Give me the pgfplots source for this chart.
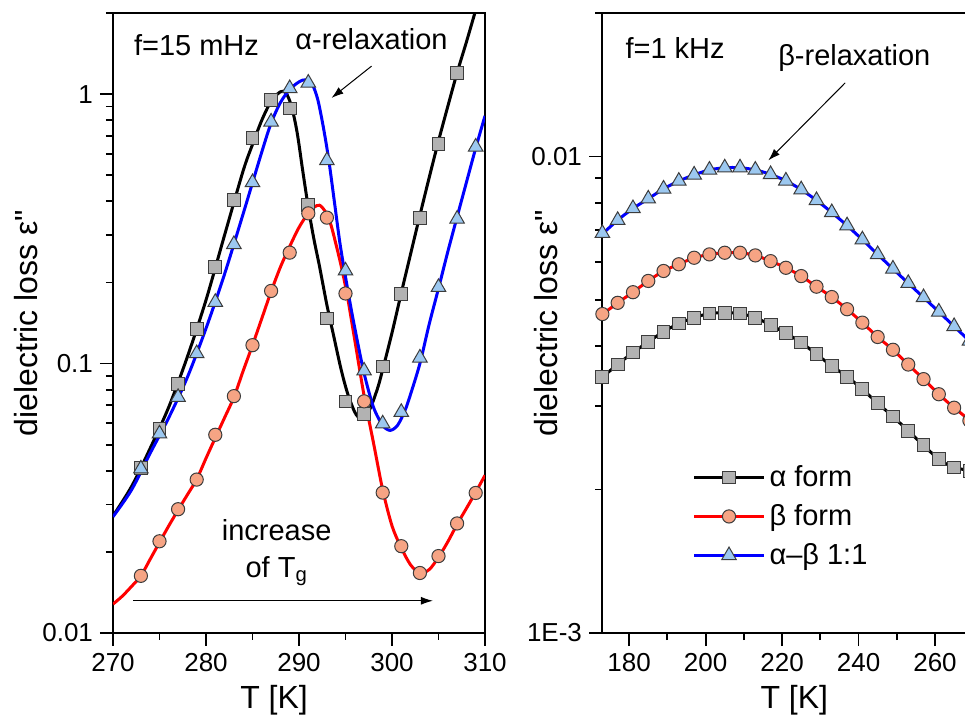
\documentclass[border=0pt]{standalone}
\usepackage{pgfplots}
\pgfplotsset{compat=1.18}
\usepackage{fontspec}
\setmainfont{Liberation Sans}
\usetikzlibrary{arrows.meta}

\definecolor{sqfill}{RGB}{178,178,178}
\definecolor{cifill}{RGB}{246,164,132}
\definecolor{trfill}{RGB}{156,200,240}
\definecolor{mkdraw}{RGB}{60,60,60}

\tikzset{
  mksq/.style={mark=square*, mark size=3.2pt,
    mark options={fill=sqfill, draw=mkdraw, line width=0.5pt}},
  mkci/.style={mark=*, mark size=3.3pt,
    mark options={fill=cifill, draw=mkdraw, line width=0.5pt}},
  mktr/.style={mark=triangle*, mark size=4.2pt,
    mark options={fill=trfill, draw=mkdraw, line width=0.5pt}},
  fitline/.style={smooth, line width=1.5pt},
  notetext/.style={font=\fontsize{14.5}{17}\selectfont},
}

\begin{document}
\begin{tikzpicture}
\useasboundingbox (-56.5pt,-47pt) rectangle (426pt,316.5pt);

% ---------- f = 15 mHz ----------
\begin{axis}[
  at={(0pt,0pt)}, anchor=south west,
  scale only axis, width=186pt, height=310pt, ymode=log,
  xmin=270, xmax=310, ymin=0.01, ymax=2,
  tick pos=left, tick align=outside,
  major tick length=6.5pt, minor tick length=3.5pt,
  major tick style={black, line width=0.9pt},
  minor tick style={black, line width=0.9pt},
  axis line style={line width=1pt},
  xtick={270,280,...,310}, minor xtick={275,285,...,305},
  xticklabels={270,280,290,300,310},
  ytick={0.01,0.1,1}, yticklabels={0.01,0.1,1},
  minor ytick={0.02,0.03,0.04,0.05,0.06,0.07,0.08,0.09,0.2,0.3,0.4,0.5,0.6,0.7,0.8,0.9,2},
  tick label style={font=\fontsize{13}{15}\selectfont},
  xlabel={T [K]}, ylabel={dielectric loss ε\textquotedbl},
  xlabel style={font=\fontsize{16}{19}\selectfont, at={(axis description cs:0.433,-0.108)}, anchor=center},
  ylabel style={font=\fontsize{16}{19}\selectfont, at={(axis description cs:-0.235,0.5)}, anchor=center},
]
% alpha form
\addplot[only marks, mksq, forget plot] coordinates {
 (273,0.041) (275,0.0573) (277,0.084) (279,0.134) (281,0.228) (283,0.404)
 (285,0.689) (287,0.948) (289,0.885) (291,0.388) (293,0.147) (295,0.0723)
 (297,0.0652) (299,0.0975) (301,0.181) (303,0.347) (305,0.655) (307,1.2)};
\addplot[no marks, fitline, black, forget plot] coordinates {
 (270,0.0272) (272,0.035) (274,0.0485) (276,0.069) (278,0.106) (280,0.172)
 (282,0.30) (284,0.52) (285,0.65) (286,0.80) (287,0.94) (288,1.02) (288.6,1.01)
 (289.2,0.90) (289.8,0.72) (290.4,0.52) (291,0.38) (291.6,0.29) (292.2,0.23)
 (293,0.165) (293.7,0.128) (294.5,0.096) (295.2,0.078) (296,0.066) (296.6,0.0625)
 (297.2,0.064) (297.8,0.070) (298.5,0.082) (299,0.095) (300,0.13) (301,0.183)
 (302,0.255) (303,0.355) (304,0.49) (305,0.67) (306,0.90) (307,1.2) (308,1.56)
 (309,2.05) (309.5,2.35)};
% beta form
\addplot[only marks, mkci, forget plot] coordinates {
 (273,0.0163) (275,0.0219) (277,0.0288) (279,0.0371) (281,0.0544) (283,0.0757)
 (285,0.117) (287,0.186) (289,0.258) (291,0.361) (293,0.348) (295,0.182)
 (297,0.0724) (299,0.0332) (301,0.0210) (303,0.0167) (305,0.0193) (307,0.0255)
 (309,0.0331)};
\addplot[no marks, fitline, red, forget plot] coordinates {
 (270,0.0128) (271,0.0137) (272,0.0149) (273,0.0163) (274,0.0188) (275,0.0217)
 (276,0.0250) (277,0.0286) (278,0.0326) (279,0.0372) (280,0.0445) (281,0.053)
 (282,0.063) (283,0.075) (284,0.094) (285,0.117) (286,0.147) (287,0.185)
 (288,0.228) (289,0.272) (290,0.32) (291,0.362) (291.6,0.38) (292.2,0.387)
 (292.8,0.368) (293.4,0.33) (294,0.275) (294.6,0.225) (295.2,0.178) (296,0.122)
 (297,0.076) (298,0.051) (299,0.034) (300,0.025) (301,0.0207) (302,0.0179)
 (303,0.0167) (304,0.0172) (305,0.0191) (306,0.0218) (307,0.0253) (308,0.029)
 (309,0.0333) (310,0.0385)};
% alpha-beta 1:1
\addplot[only marks, mktr, forget plot] coordinates {
 (273,0.0407) (275,0.0549) (277,0.075) (279,0.109) (281,0.169) (283,0.277)
 (285,0.47) (287,0.789) (289,1.05) (291,1.10) (293,0.567) (295,0.221)
 (297,0.094) (299,0.0598) (301,0.066) (303,0.105) (305,0.192) (307,0.344)
 (309,0.637)};
\addplot[no marks, fitline, blue, forget plot] coordinates {
 (270,0.027) (272,0.034) (274,0.0465) (276,0.063) (278,0.089) (280,0.135)
 (282,0.215) (284,0.36) (286,0.61) (287,0.78) (288,0.93) (289,1.04) (290,1.11)
 (290.7,1.13) (291.4,1.09) (292,0.96) (292.6,0.76) (293.2,0.57) (293.8,0.40)
 (294.4,0.28) (295,0.21) (295.6,0.16) (296.2,0.125) (297,0.092) (298,0.069)
 (299,0.059) (299.8,0.0565) (300.6,0.059) (301.4,0.067) (302,0.077) (303,0.10)
 (304,0.14) (305,0.19) (306,0.26) (307,0.35) (308,0.47) (309,0.63) (310,0.83)};

\node[notetext, anchor=west] at (axis cs:271.5,1.52) {f=15 mHz};
\node[notetext] at (axis cs:297.8,1.6) {α-relaxation};
\draw[line width=0.5pt, -{Latex[length=6pt,width=4pt]}] (axis cs:297.8,1.27) -- (axis cs:293.5,0.968);
\node[notetext, anchor=base] at (axis cs:287.6,0.0221) {increase};
\node[notetext, anchor=base] at (axis cs:287.6,0.01606) {of T\textsubscript{g}};
\draw[line width=0.5pt, -{Latex[length=6pt,width=4pt]}] (axis cs:272.2,0.01317) -- (axis cs:304.4,0.01317);
\end{axis}

% ---------- f = 1 kHz ----------
\begin{axis}[
  at={(244.5pt,0pt)}, anchor=south west,
  scale only axis, width=186pt, height=310pt, ymode=log,
  xmin=172.9, xmax=270.2, ymin=0.001, ymax=0.02,
  tick pos=left, tick align=outside,
  major tick length=6.5pt, minor tick length=3.5pt,
  major tick style={black, line width=0.9pt},
  minor tick style={black, line width=0.9pt},
  axis line style={line width=1pt},
  xtick={180,200,...,260}, minor xtick={190,210,...,250},
  xticklabels={180,200,220,240,260},
  ytick={0.001,0.01}, yticklabels={1E-3,0.01},
  minor ytick={0.002,0.003,0.004,0.005,0.006,0.007,0.008,0.009,0.02},
  tick label style={font=\fontsize{13}{15}\selectfont},
  xlabel={T [K]}, ylabel={dielectric loss ε\textquotedbl},
  xlabel style={font=\fontsize{16}{19}\selectfont, at={(axis description cs:0.517,-0.108)}, anchor=center},
  ylabel style={font=\fontsize{16}{19}\selectfont, at={(axis description cs:-0.150,0.5)}, anchor=center},
  legend image code/.code={\draw[mark repeat=2,mark phase=2,#1]
     plot coordinates {(0pt,0pt) (17.5pt,0pt) (35pt,0pt)};},
  legend style={draw=none, fill=none, font=\fontsize{14.5}{17}\selectfont,
     at={(axis cs:194.9,0.00234)}, anchor=north west, row sep=3.5pt},
  legend cell align=left,
]
\addplot[only marks, mksq, forget plot] coordinates {
 (173,0.00345) (177,0.00366) (181,0.00388) (185,0.00408) (189,0.00429)
 (193,0.00446) (197,0.00459) (201,0.00468) (205,0.0047) (209,0.00468)
 (213,0.00459) (217,0.00443) (221,0.004255) (225,0.00407) (229,0.003846)
 (233,0.003635) (237,0.003452) (241,0.003247) (245,0.003035) (249,0.002846)
 (253,0.002655) (257,0.002477) (261,0.002316) (265,0.002225) (269,0.00219)};
\addplot[no marks, fitline, black, forget plot] coordinates {
 (172.5,0.00342) (177,0.00366) (181,0.00388) (185,0.00408) (189,0.00429)
 (193,0.00446) (197,0.00459) (201,0.00468) (205,0.0047) (209,0.00468)
 (213,0.00459) (217,0.00443) (221,0.004255) (225,0.00407) (229,0.003846)
 (233,0.003635) (237,0.003452) (241,0.003247) (245,0.003035) (249,0.002846)
 (253,0.002655) (257,0.002477) (261,0.002316) (265,0.002225) (270,0.00219)};
\addplot[only marks, mkci, forget plot] coordinates {
 (173,0.00467) (177,0.00493) (181,0.00519) (185,0.00548) (189,0.00575)
 (193,0.00594) (197,0.00613) (201,0.00623) (205,0.00628) (209,0.00628)
 (213,0.0062) (217,0.00603) (221,0.00584) (225,0.00561) (229,0.00533)
 (233,0.00507) (237,0.00478) (241,0.00448) (245,0.00418) (249,0.00393)
 (253,0.00366) (257,0.00341) (261,0.00317) (265,0.00297) (269,0.00279)};
\addplot[no marks, fitline, red, forget plot] coordinates {
 (172.5,0.00463) (177,0.00493) (181,0.00519) (185,0.00548) (189,0.00575)
 (193,0.00594) (197,0.00613) (201,0.00623) (205,0.00628) (209,0.00628)
 (213,0.0062) (217,0.00603) (221,0.00584) (225,0.00561) (229,0.00533)
 (233,0.00507) (237,0.00478) (241,0.00448) (245,0.00418) (249,0.00393)
 (253,0.00366) (257,0.00341) (261,0.00317) (265,0.00297) (270,0.00276)};
\addplot[only marks, mktr, forget plot] coordinates {
 (173,0.0069) (177,0.00735) (181,0.00778) (185,0.00815) (189,0.00855)
 (193,0.00888) (197,0.00915) (201,0.00937) (205,0.00947) (209,0.00947)
 (213,0.00937) (217,0.00917) (221,0.00889) (225,0.00852) (229,0.00809)
 (233,0.00763) (237,0.00716) (241,0.00669) (245,0.00623) (249,0.00581)
 (253,0.00542) (257,0.00506) (261,0.00472) (265,0.0044) (269,0.0041)};
\addplot[no marks, fitline, blue, forget plot] coordinates {
 (172.5,0.00682) (177,0.00735) (181,0.00778) (185,0.00815) (189,0.00855)
 (193,0.00888) (197,0.00915) (201,0.00937) (205,0.00947) (209,0.00947)
 (213,0.00937) (217,0.00917) (221,0.00889) (225,0.00852) (229,0.00809)
 (233,0.00763) (237,0.00716) (241,0.00669) (245,0.00623) (249,0.00581)
 (253,0.00542) (257,0.00506) (261,0.00472) (265,0.0044) (270,0.00403)};

\addlegendimage{black, line width=1.5pt, mksq}
\addlegendentry{α form}
\addlegendimage{red, line width=1.5pt, mkci}
\addlegendentry{β form}
\addlegendimage{blue, line width=1.5pt, mktr}
\addlegendentry{α–β 1:1}

\node[notetext, anchor=west] at (axis cs:177.2,0.0169) {f=1 kHz};
\node[notetext] at (axis cs:238.9,0.0161) {β-relaxation};
\draw[line width=0.5pt, -{Latex[length=6pt,width=4pt]}] (axis cs:236.5,0.01427) -- (axis cs:216.4,0.00981);
\end{axis}
\end{tikzpicture}
\end{document}
